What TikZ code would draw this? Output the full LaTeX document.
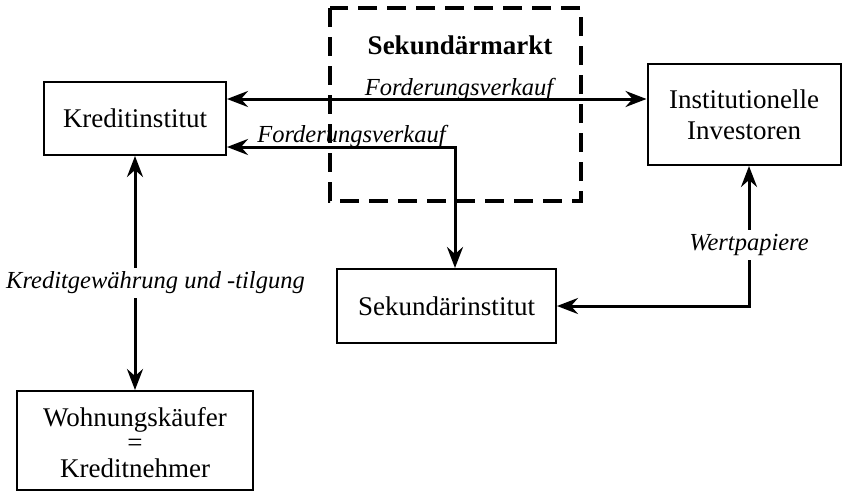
\documentclass[tikz,border=0pt]{standalone}
\usepackage{fontspec}
\setmainfont{Liberation Serif}
\usetikzlibrary{arrows.meta}
\begin{document}
\begin{tikzpicture}[x=1pt,y=-1pt,
  box/.style={draw, line width=2pt, inner sep=0pt, align=center,
    font=\fontsize{27}{31}\selectfont},
  both/.style={line width=3pt, line join=miter,
    {Stealth[length=21pt,width=16pt,inset=7pt]}-{Stealth[length=21pt,width=16pt,inset=7pt]}},
  lbl/.style={font=\fontsize{24.5}{28}\selectfont\itshape, inner sep=2pt},
  market/.style={draw, line width=3.4pt, dash pattern=on 19pt off 10pt}
]
\useasboundingbox (0,0) rectangle (842,493);

% secondary market frame
\draw[market] (330,8) rectangle (581,201);
\node[font=\fontsize{27}{31}\selectfont\bfseries] (markt) at (460,45) {Sekundärmarkt};

% participants
\node[box, minimum width=182pt, minimum height=73pt] (kred) at (135,118.5) {Kreditinstitut};
\node[box, minimum width=193pt, minimum height=101pt] (inv) at (744,114.5)
  {Institutionelle\\Investoren};
\node[box, minimum width=236pt, minimum height=99pt,
  font=\fontsize{27}{24.5}\selectfont] (wohn) at (135,440.5)
  {\raisebox{0pt}[\dimexpr\height+11pt\relax][\depth]{\begin{tabular}{@{}c@{}}Wohnungskäufer\\=\\Kreditnehmer\end{tabular}}};
\node[box, minimum width=219pt, minimum height=74pt] (sek) at (446.5,306) {Sekundärinstitut};

% routing points
\coordinate (r1) at (0,99);
\coordinate (turn) at (455,147);
\coordinate (wp) at (749,306);

% direct sale to institutional investors
\draw[both] (kred.east |- r1) -- (inv.west |- r1);
\node[lbl, anchor=base] (fv1) at (459,95) {Forderungsverkauf};

% sale via the secondary institution
\draw[both] (kred.east |- turn) -- (turn) -- (turn |- sek.north);
\node[lbl, anchor=base] (fv2) at (351.5,142) {Forderungsverkauf};

% securities
\draw[both] (sek.east |- wp) -- (wp) -- (wp |- inv.south);
\node[lbl, fill=white, inner sep=4pt] (wpl) at (749,245) {Wertpapiere};

% lending and repayment
\draw[both] (kred.south) -- (wohn.north);
\node[lbl, fill=white, inner sep=4pt] (kg) at (155.5,283) {Kreditgewährung und -tilgung};
\end{tikzpicture}
\end{document}
